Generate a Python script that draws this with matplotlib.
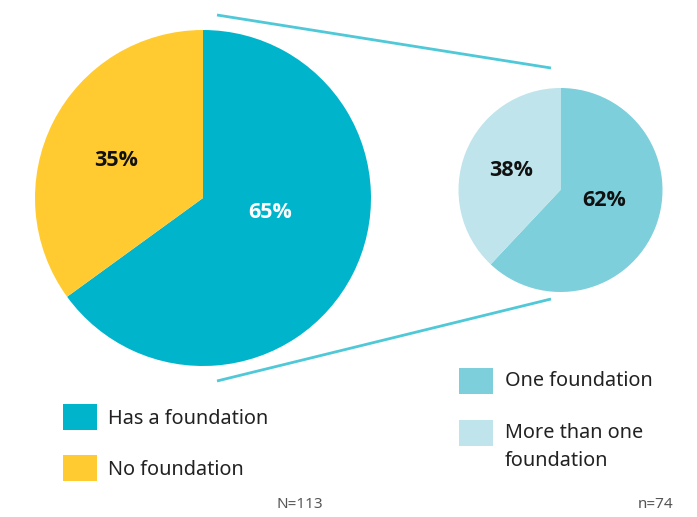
import matplotlib.pyplot as plt
from matplotlib.patches import Rectangle

plt.rcParams['font.family'] = ['Noto Sans', 'DejaVu Sans']

# data
main_labels = ['Has a foundation', 'No foundation']
main_values = [65, 35]
main_colors = ['#00b5cb', '#ffcb31']

sub_labels = ['One foundation', 'More than one\nfoundation']
sub_values = [62, 38]
sub_colors = ['#7ccfdb', '#bfe4eb']

main_n = 'N=113'
sub_n = 'n=74'

W, H = 697, 517
fig = plt.figure(figsize=(W / 100, H / 100), dpi=100)
ax = fig.add_axes([0, 0, 1, 1])

# connector lines (drawn first, behind)
line_col = '#4fc8d8'
ax.plot([217, 551], [H - 15, H - 68], color=line_col, lw=2, solid_capstyle='butt')
ax.plot([217, 551], [H - 381, H - 299], color=line_col, lw=2, solid_capstyle='butt')

# big pie
ax.pie(main_values, colors=main_colors, startangle=90, counterclock=False,
       center=(203, H - 198), radius=168, frame=True,
       wedgeprops=dict(linewidth=0))
# small pie
ax.pie(sub_values, colors=sub_colors, startangle=90, counterclock=False,
       center=(560.5, H - 190), radius=102, frame=True,
       wedgeprops=dict(linewidth=0))
ax.set_xlim(0, W)
ax.set_ylim(0, H)
ax.set_aspect('equal')
ax.axis('off')

# percentage labels
pct_kw = dict(fontsize=15.5, fontweight='bold', family='Open Sans', ha='center', va='center')
ax.text(270, H - 213, f'{main_values[0]}%', color='white', **pct_kw)
ax.text(116, H - 160, f'{main_values[1]}%', color='#111111', **pct_kw)
ax.text(604, H - 201, f'{sub_values[0]}%', color='#111111', **pct_kw)
ax.text(511, H - 170, f'{sub_values[1]}%', color='#111111', **pct_kw)

# legends
leg_kw = dict(fontsize=14.3, color='#222222', ha='left', va='center', linespacing=1.55)
for i, (lab, col) in enumerate(zip(main_labels, main_colors)):
    yc = 417 + i * 51
    ax.add_patch(Rectangle((63, H - yc - 13), 34, 26, color=col, lw=0))
    ax.text(108, H - yc - 2, lab, **leg_kw)

sub_y = [381, 433]
for yc, lab, col in zip(sub_y, sub_labels, sub_colors):
    ax.add_patch(Rectangle((459, H - yc - 13), 34, 26, color=col, lw=0))
    ty = yc if '\n' not in lab else yc + 14
    ax.text(505, H - ty, lab, **leg_kw)

ax.text(323, H - 505, main_n, fontsize=11, color='#555555', ha='right', va='center')
ax.text(673, H - 505, sub_n, fontsize=11, color='#555555', ha='right', va='center')

fig.savefig('out.png', dpi=100)
